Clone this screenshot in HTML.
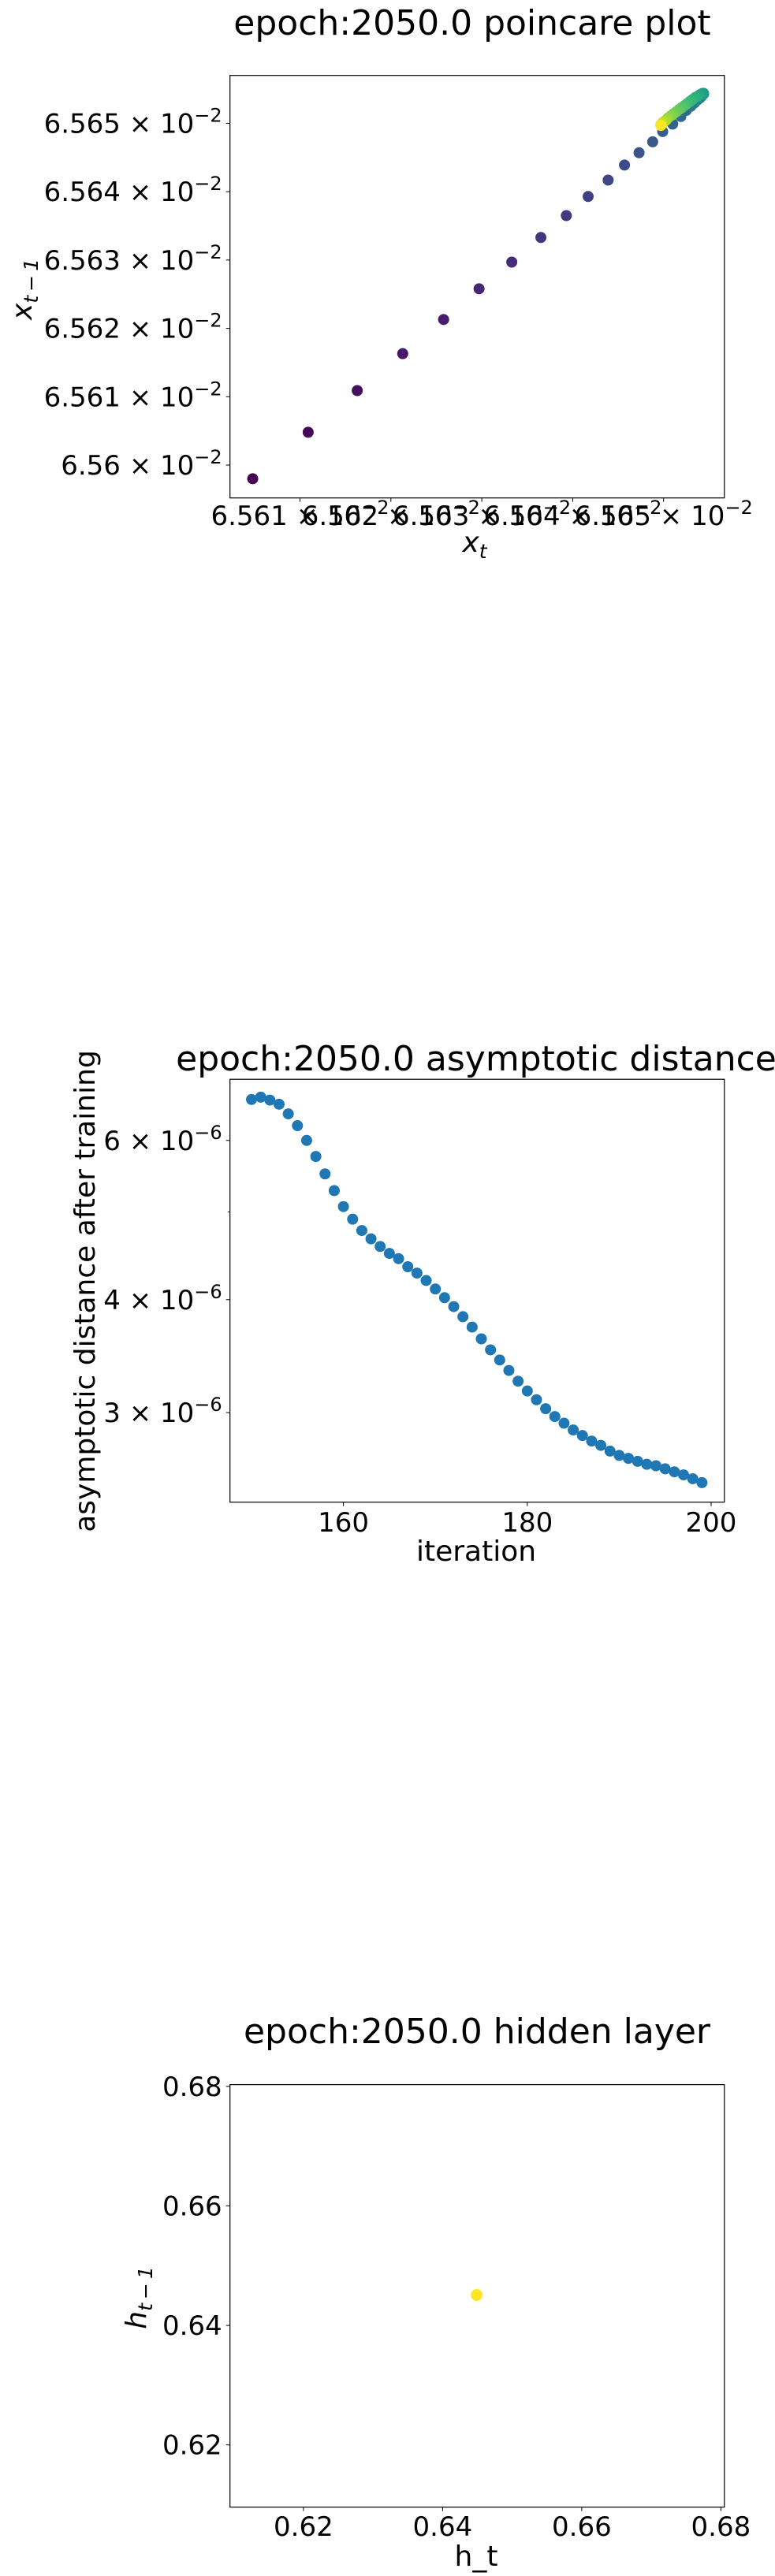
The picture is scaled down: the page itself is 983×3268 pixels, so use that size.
<!DOCTYPE html>
<html><head><meta charset="utf-8"><style>
html,body{margin:0;padding:0;background:#fff;}
svg{display:block;font-family:"DejaVu Sans","Liberation Sans",sans-serif;}
</style></head><body>
<svg id="fig" width="983" height="3268" viewBox="0 0 983 3268" xmlns="http://www.w3.org/2000/svg"></svg>
<script>
// ---- Plot 1: poincare (values in units of 1e-2) ----
const poincareSeries = [6.5598,6.56048,6.56109,6.56163,6.56213,6.56258,6.56297,6.56333,6.56365,6.56393,6.56417,6.56439,6.56457,6.56473,6.56488,6.56499,6.5651,6.56519,6.56525,6.5653,6.56534,6.56537,6.5654,6.56542,6.56543,6.56544,6.56544,6.56543,6.56542,6.5654,6.56538,6.56535,6.56532,6.56529,6.56526,6.56523,6.5652,6.56517,6.56514,6.56511,6.56508,6.56505,6.56503,6.56501,6.56499,6.56498,6.56497,6.56497,6.56497,6.56497];
const poincareXTicks = [6.561,6.562,6.563,6.564,6.565];
const poincareYTicks = [6.56,6.561,6.562,6.563,6.564,6.565];
// ---- Plot 2: asymptotic distance (units of 1e-6) ----
const iterations = [];
for (let k = 150; k < 200; k++) iterations.push(k);
const distances = [6.66,6.70,6.65,6.58,6.42,6.23,6.00,5.76,5.51,5.28,5.07,4.91,4.77,4.67,4.58,4.50,4.44,4.35,4.28,4.20,4.11,4.02,3.93,3.83,3.73,3.62,3.52,3.43,3.34,3.25,3.17,3.10,3.03,2.97,2.92,2.87,2.83,2.79,2.76,2.72,2.69,2.67,2.65,2.63,2.62,2.60,2.58,2.56,2.535,2.51];
const distXTicks = [160,180,200];
const distYTicks = [3,4,6];
const distYMinor = [5];
// ---- Plot 3: hidden layer ----
const hiddenX = [0.6449];
const hiddenY = [0.6451];
const hiddenTicks = [0.62,0.64,0.66,0.68];

const NS = "http://www.w3.org/2000/svg";
const svg = document.getElementById('fig');
function mk(tag, attrs, parent, text) {
  const e = document.createElementNS(NS, tag);
  for (const k in attrs) e.setAttribute(k, attrs[k]);
  if (text !== undefined) e.textContent = text;
  (parent || svg).appendChild(e);
  return e;
}
const VIR = [[68,1,84],[72,40,120],[62,74,137],[49,104,142],[38,130,142],[31,158,137],[53,183,121],[109,205,89],[180,222,44],[253,231,37]];
function viridis(t) {
  const p = t * (VIR.length - 1), i = Math.min(Math.floor(p), VIR.length - 2), f = p - i;
  const c = VIR[i].map((v, j) => Math.round(v + (VIR[i + 1][j] - v) * f));
  return `rgb(${c[0]},${c[1]},${c[2]})`;
}
function frame(g, L, R, T, B, name) {
  const r = mk('rect', {x: L, y: T, width: R - L, height: B - T, fill: 'none', stroke: '#000', 'stroke-width': 1.2}, g);
  
  
}
function xTick(g, x, B, label, baseline, name) {
  mk('line', {x1: x, x2: x, y1: B, y2: B + 5, stroke: '#000', 'stroke-width': 1}, g);
  const t = mk('text', {x: x, y: baseline, 'text-anchor': 'middle', 'font-size': 34}, g);
  
  
  return t;
}
function yTick(g, y, L, name) {
  mk('line', {x1: L - 5, x2: L, y1: y, y2: y, stroke: '#000', 'stroke-width': 1}, g);
  const t = mk('text', {x: L - 10, y: y + 12, 'text-anchor': 'end', 'font-size': 34}, g);
  
  
  return t;
}
function sci(t, mant, exp) {
  mk('tspan', {}, t, mant + ' \u00d7 10');
  mk('tspan', {dy: -14, 'font-size': 24}, t, '\u2212' + exp);
}

// ===== Plot 1 =====
{
  const g = mk('g', {});
  
  
  const L = 291.7, R = 918.8, T = 95.7, B = 631.7;
  const xs = v => 380.5 + (v - 6.561) / 0.001 * 115.3;
  const ys = v => 156.5 + (6.565 - v) / 0.001 * 86.7;
  const title = mk('text', {x: 599, y: 44, 'text-anchor': 'middle', 'font-size': 44}, g, 'epoch:2050.0 poincare plot');
  
  
  frame(g, L, R, T, B, 'poincare-axes');
  poincareXTicks.forEach(v => { const t = xTick(g, xs(v), B, '', 666, 'x-tick-label'); sci(t, v.toFixed(3), 2); });
  poincareYTicks.forEach(v => { const t = yTick(g, ys(v), L, 'y-tick-label'); sci(t, String(v), 2); });
  const n = poincareSeries.length - 1;
  for (let i = 1; i < poincareSeries.length; i++) {
    const c = mk('circle', {cx: xs(poincareSeries[i]), cy: ys(poincareSeries[i - 1]), r: 7, fill: viridis((i - 1) / (n - 1))}, g);
    
    
  }
  const xl = mk('text', {x: 602, y: 700, 'text-anchor': 'middle', 'font-size': 36, 'font-style': 'italic'}, g);
  
  
  mk('tspan', {}, xl, 'x'); mk('tspan', {dy: 8, 'font-size': 25}, xl, 't');
  const yl = mk('text', {x: 0, y: 0, 'text-anchor': 'middle', 'font-size': 36, transform: 'translate(40,367) rotate(-90)'}, g);
  
  
  mk('tspan', {'font-style': 'italic'}, yl, 'x'); mk('tspan', {dy: 8, 'font-size': 25, 'font-style': 'italic'}, yl, 't\u2009\u2212\u20091');
}

// ===== Plot 2 =====
{
  const g = mk('g', {});
  
  
  const L = 291.7, R = 918.8, T = 1369.2, B = 1905.7;
  const xs = v => 435.6 + (v - 160) / 20 * 233.2;
  const ys = v => 1446.8 - Math.log10(v / 6) * 1147;
  const title = mk('text', {x: 604, y: 1358, 'text-anchor': 'middle', 'font-size': 44}, g, 'epoch:2050.0 asymptotic distance');
  
  
  frame(g, L, R, T, B, 'distance-axes');
  distXTicks.forEach(v => { const t = xTick(g, xs(v), B, '', 1943, 'x-tick-label'); t.textContent = String(v); });
  distYTicks.forEach(v => { const t = yTick(g, ys(v), L, 'y-tick-label'); sci(t, String(v), 6); });
  distYMinor.forEach(v => mk('line', {x1: L - 3, x2: L, y1: ys(v), y2: ys(v), stroke: '#000', 'stroke-width': 0.8}, g));
  distances.forEach((d, i) => {
    const c = mk('circle', {cx: xs(iterations[i]), cy: ys(d), r: 7, fill: '#1f77b4'}, g);
    
    
  });
  const xl = mk('text', {x: 604, y: 1980, 'text-anchor': 'middle', 'font-size': 36}, g, 'iteration');
  
  
  const yl = mk('text', {x: 0, y: 0, 'text-anchor': 'middle', 'font-size': 36, transform: 'translate(120,1638) rotate(-90)'}, g, 'asymptotic distance after training');
  
  
}

// ===== Plot 3 =====
{
  const g = mk('g', {});
  
  
  const L = 291.7, R = 918.8, T = 2644.6, B = 3180.6;
  const xs = v => 384.9 + (v - 0.62) / 0.02 * 176.5;
  const ys = v => 2646.9 + (0.68 - v) / 0.02 * 151.6;
  const title = mk('text', {x: 605, y: 2592, 'text-anchor': 'middle', 'font-size': 44}, g, 'epoch:2050.0 hidden layer');
  
  
  frame(g, L, R, T, B, 'hidden-axes');
  hiddenTicks.forEach(v => { const t = xTick(g, xs(v), B, '', 3217, 'x-tick-label'); t.textContent = v.toFixed(2); });
  hiddenTicks.forEach(v => { const t = yTick(g, ys(v), L, 'y-tick-label'); t.textContent = v.toFixed(2); });
  hiddenX.forEach((hx, i) => {
    const c = mk('circle', {cx: xs(hx), cy: ys(hiddenY[i]), r: 7.5, fill: '#fde725'}, g);
    
    
  });
  const xl = mk('text', {x: 604, y: 3255, 'text-anchor': 'middle', 'font-size': 36}, g, 'h_t');
  
  
  const yl = mk('text', {x: 0, y: 0, 'text-anchor': 'middle', 'font-size': 36, transform: 'translate(185,2915) rotate(-90)'}, g);
  
  
  mk('tspan', {'font-style': 'italic'}, yl, 'h'); mk('tspan', {dy: 8, 'font-size': 25, 'font-style': 'italic'}, yl, 't\u2009\u2212\u20091');
}
</script>
</body></html>
